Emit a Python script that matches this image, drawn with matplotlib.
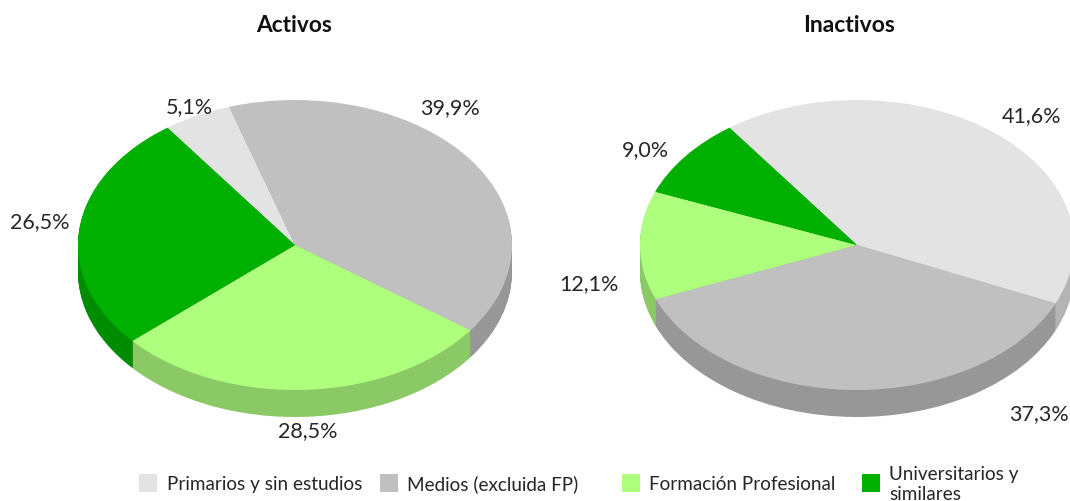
import matplotlib
matplotlib.use("Agg")
import matplotlib.pyplot as plt
from matplotlib.patches import Rectangle

W, H = 1070, 502
FONT = ["Lato", "DejaVu Sans"]

categories = ["Primarios y sin estudios", "Medios (excluida FP)", "Formación Profesional", "Universitarios y\nsimilares"]
activos = [5.1, 39.9, 28.5, 26.5]
inactivos = [41.6, 37.3, 12.1, 9.0]
titles = ["Activos", "Inactivos"]

top_colors = ["#E3E3E3", "#C0C0C0", "#AEFF7E", "#00B000"]
side_colors = ["#B4B4B4", "#979797", "#8BC866", "#008C00"]

fig = plt.figure(figsize=(W / 100, H / 100), dpi=100, facecolor="white")


def px_axes(x0, y0, x1, y1):
    return fig.add_axes([x0 / W, 1 - y1 / H, (x1 - x0) / W, (y1 - y0) / H])


def ftext(x, y, s, **kw):
    kw.setdefault("family", FONT)
    kw.setdefault("color", "#262626")
    kw.setdefault("ha", "center")
    kw.setdefault("va", "center")
    return fig.text(x / W, 1 - y / H, s, **kw)


RX, RY, DEPTH = 217, 145, 27
START = 126.0


def pie3d(cx, cy, values):
    ax = px_axes(cx - RX, cy - RY, cx + RX, cy + RY + DEPTH)
    for k in range(DEPTH, 0, -1):
        ax.pie(values, colors=side_colors, startangle=START, counterclock=False,
               center=(0, -k / RY), radius=1, wedgeprops={"linewidth": 0})
    ax.pie(values, colors=top_colors, startangle=START, counterclock=False,
           center=(0, 0), radius=1, wedgeprops={"linewidth": 0})
    ax.set_aspect("auto")
    ax.set_xlim(-1, 1)
    ax.set_ylim(-1 - DEPTH / RY, 1)
    ax.set_axis_off()
    for p in ax.patches:
        p.set_clip_on(False)
    return ax


pie3d(295, 246, activos)
pie3d(857, 246, inactivos)

ftext(294, 25, titles[0], fontsize=16.3, fontweight="bold", color="#111111")
ftext(849, 25, titles[1], fontsize=16.5, fontweight="bold", color="#111111")


def pct(v):
    return f"{v:.1f}".replace(".", ",") + "%"


left_pos = [(189, 107), (450, 108), (308, 431), (40, 222)]
right_pos = [(1031, 116), (1039, 414), (589, 284), (645, 150)]
for v, (x, y) in zip(activos, left_pos):
    ftext(x, y, pct(v), fontsize=15.5)
for v, (x, y) in zip(inactivos, right_pos):
    ftext(x, y, pct(v), fontsize=15.5)

swatch_x = [139, 380, 622, 862]
text_x = [167, 407, 649, 889]
baseline_y = [490, 490, 490, 500]
for name, c, sx, tx, by in zip(categories, top_colors, swatch_x, text_x, baseline_y):
    fig.add_artist(Rectangle((sx / W, 1 - 493 / H), 18 / W, 18 / H, transform=fig.transFigure,
                             facecolor=c, edgecolor="none"))
    ftext(tx, by, name, fontsize=13.6, ha="left", va="baseline", linespacing=1.22)

fig.savefig("out.png", dpi=100)
